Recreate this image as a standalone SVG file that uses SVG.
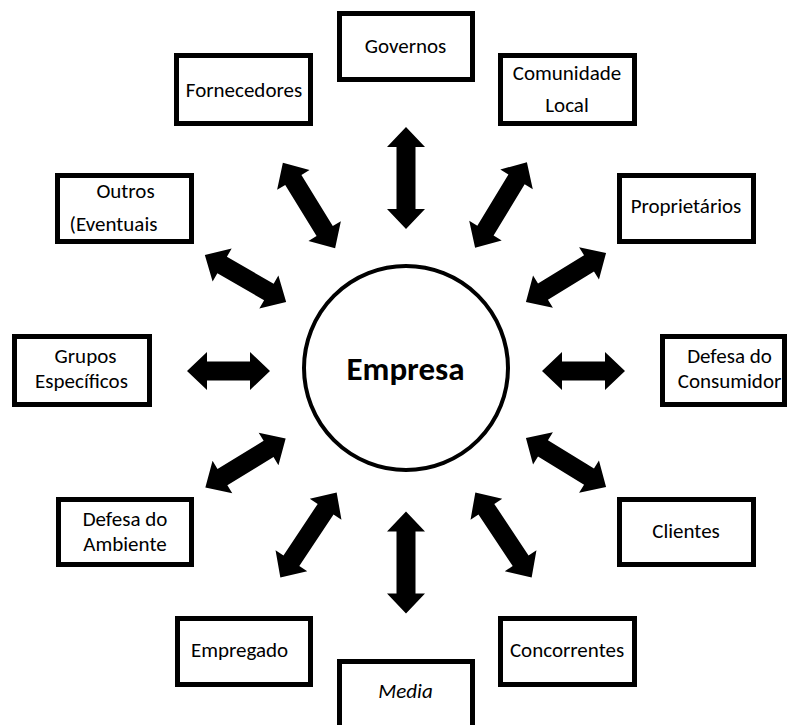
<svg xmlns="http://www.w3.org/2000/svg" xmlns:xlink="http://www.w3.org/1999/xlink" width="788" height="725" viewBox="0 0 788 725">
  <style>
    .box { fill: #fff; stroke: #000; stroke-width: 5; }
    .lbl { font-family: Carlito, Calibri, Lato, "Liberation Sans", sans-serif; font-size: 21px; fill: #000; text-anchor: middle; }
    .hub { fill: #fff; stroke: #000; stroke-width: 4; }
    .hubtxt { font-family: Carlito, Calibri, Lato, "Liberation Sans", sans-serif; font-size: 33px; font-weight: bold; fill: #000; text-anchor: middle; }
    .arr { fill: #000; }
  </style>
  <defs>
    <!-- double-headed block arrows, horizontal, centred on the origin -->
    <path id="a102" d="M-51,0 L-31,-19 L-31,-9.5 L31,-9.5 L31,-19 L51,0 L31,19 L31,9.5 L-31,9.5 L-31,19 Z"/>
    <path id="a100" d="M-50,0 L-30,-19 L-30,-9.5 L30,-9.5 L30,-19 L50,0 L30,19 L30,9.5 L-30,9.5 L-30,19 Z"/>
    <path id="a94" d="M-47,0 L-27,-19 L-27,-9.5 L27,-9.5 L27,-19 L47,0 L27,19 L27,9.5 L-27,9.5 L-27,19 Z"/>
    <path id="a83" d="M-41.5,0 L-21.5,-19 L-21.5,-9.5 L21.5,-9.5 L21.5,-19 L41.5,0 L21.5,19 L21.5,9.5 L-21.5,9.5 L-21.5,19 Z"/>
  </defs>

  <g id="connectors" class="arr">
    <use xlink:href="#a102" transform="translate(406,178) rotate(90)"/>
    <use xlink:href="#a102" transform="translate(406,562.5) rotate(90)"/>
    <use xlink:href="#a83" transform="translate(228.5,371)"/>
    <use xlink:href="#a83" transform="translate(583.5,371)"/>
    <use xlink:href="#a100" transform="translate(309,205.5) rotate(58.5)"/>
    <use xlink:href="#a100" transform="translate(501,205) rotate(-58.8)"/>
    <use xlink:href="#a94" transform="translate(245.5,278.5) rotate(30.1)"/>
    <use xlink:href="#a94" transform="translate(566,277.5) rotate(-31.5)"/>
    <use xlink:href="#a94" transform="translate(245.5,463) rotate(-31.3)"/>
    <use xlink:href="#a94" transform="translate(566,462.5) rotate(31.5)"/>
    <use xlink:href="#a102" transform="translate(308.5,535) rotate(-56.5)"/>
    <use xlink:href="#a102" transform="translate(503.5,535) rotate(56.5)"/>
  </g>

  <g id="empresa">
    <circle class="hub" cx="406" cy="368" r="102"/>
    <text class="hubtxt" x="405.5" y="380">Empresa</text>
  </g>

  <g id="governos">
    <rect class="box" x="339.5" y="13.5" width="133" height="66"/>
    <text class="lbl" x="405.5" y="53">Governos</text>
  </g>
  <g id="fornecedores">
    <rect class="box" x="176.5" y="55.5" width="134" height="68"/>
    <text class="lbl" x="244" y="97">Fornecedores</text>
  </g>
  <g id="comunidade-local">
    <rect class="box" x="500.5" y="55.5" width="134" height="68"/>
    <text class="lbl" x="567" y="80">Comunidade</text>
    <text class="lbl" x="567" y="112">Local</text>
  </g>
  <g id="outros">
    <rect class="box" x="57.5" y="175.5" width="134" height="66"/>
    <text class="lbl" x="125.5" y="198">Outros</text>
    <text class="lbl" x="113.5" y="231">(Eventuais</text>
  </g>
  <g id="proprietarios">
    <rect class="box" x="619.5" y="175.5" width="134" height="66"/>
    <text class="lbl" x="686" y="213">Proprietários</text>
  </g>
  <g id="grupos-especificos">
    <rect class="box" x="14.5" y="336.5" width="135" height="68"/>
    <text class="lbl" x="85.5" y="363">Grupos</text>
    <text class="lbl" x="81.5" y="388">Específicos</text>
  </g>
  <g id="defesa-consumidor">
    <rect class="box" x="662.5" y="336.5" width="122" height="68"/>
    <text class="lbl" x="729.5" y="363">Defesa do</text>
    <text class="lbl" x="729.5" y="388">Consumidor</text>
  </g>
  <g id="defesa-ambiente">
    <rect class="box" x="58.5" y="499.5" width="133" height="65"/>
    <text class="lbl" x="125" y="526">Defesa do</text>
    <text class="lbl" x="125" y="551">Ambiente</text>
  </g>
  <g id="clientes">
    <rect class="box" x="619.5" y="499.5" width="134" height="65"/>
    <text class="lbl" x="686" y="538">Clientes</text>
  </g>
  <g id="empregado">
    <rect class="box" x="177.5" y="618.5" width="133" height="66"/>
    <text class="lbl" x="239.5" y="657">Empregado</text>
  </g>
  <g id="concorrentes">
    <rect class="box" x="500.5" y="618.5" width="134" height="66"/>
    <text class="lbl" x="567" y="657">Concorrentes</text>
  </g>
  <g id="media">
    <rect class="box" x="339.5" y="661.5" width="133" height="80"/>
    <text class="lbl" x="405.5" y="698" font-style="italic">Media</text>
  </g>
</svg>
